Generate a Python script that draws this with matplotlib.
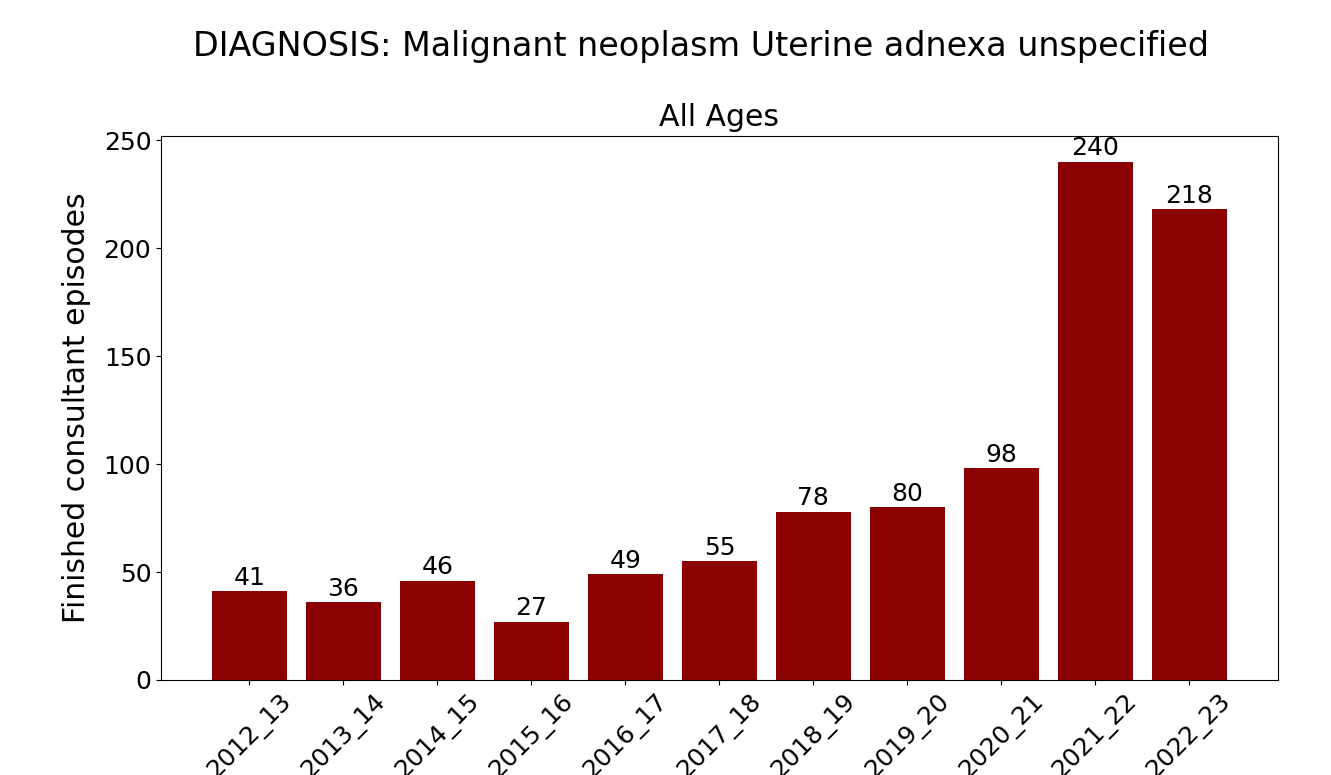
import matplotlib
matplotlib.use("Agg")
import matplotlib.pyplot as plt

years = ["2012_13", "2013_14", "2014_15", "2015_16", "2016_17", "2017_18",
         "2018_19", "2019_20", "2020_21", "2021_22", "2022_23"]
episodes = [41, 36, 46, 27, 49, 55, 78, 80, 98, 240, 218]

fig = plt.figure(figsize=(13.31, 7.75), dpi=100)
ax = fig.add_axes([0.121, 0.1226, 0.839, 0.702])
bars = ax.bar(years, episodes, color="darkred", width=0.8)
ax.bar_label(bars, labels=[str(v) for v in episodes], fontsize=18, padding=1)
ax.set_title("All Ages", fontsize=21.5, pad=7)
fig.suptitle("DIAGNOSIS: Malignant neoplasm Uterine adnexa unspecified", fontsize=24,
             x=0.527, y=0.961)
ax.set_ylabel("Finished consultant episodes", fontsize=21.5, labelpad=9)
ax.tick_params(axis="both", labelsize=18)
plt.setp(ax.get_xticklabels(), rotation=45)
fig.savefig("out.png", dpi=100)
